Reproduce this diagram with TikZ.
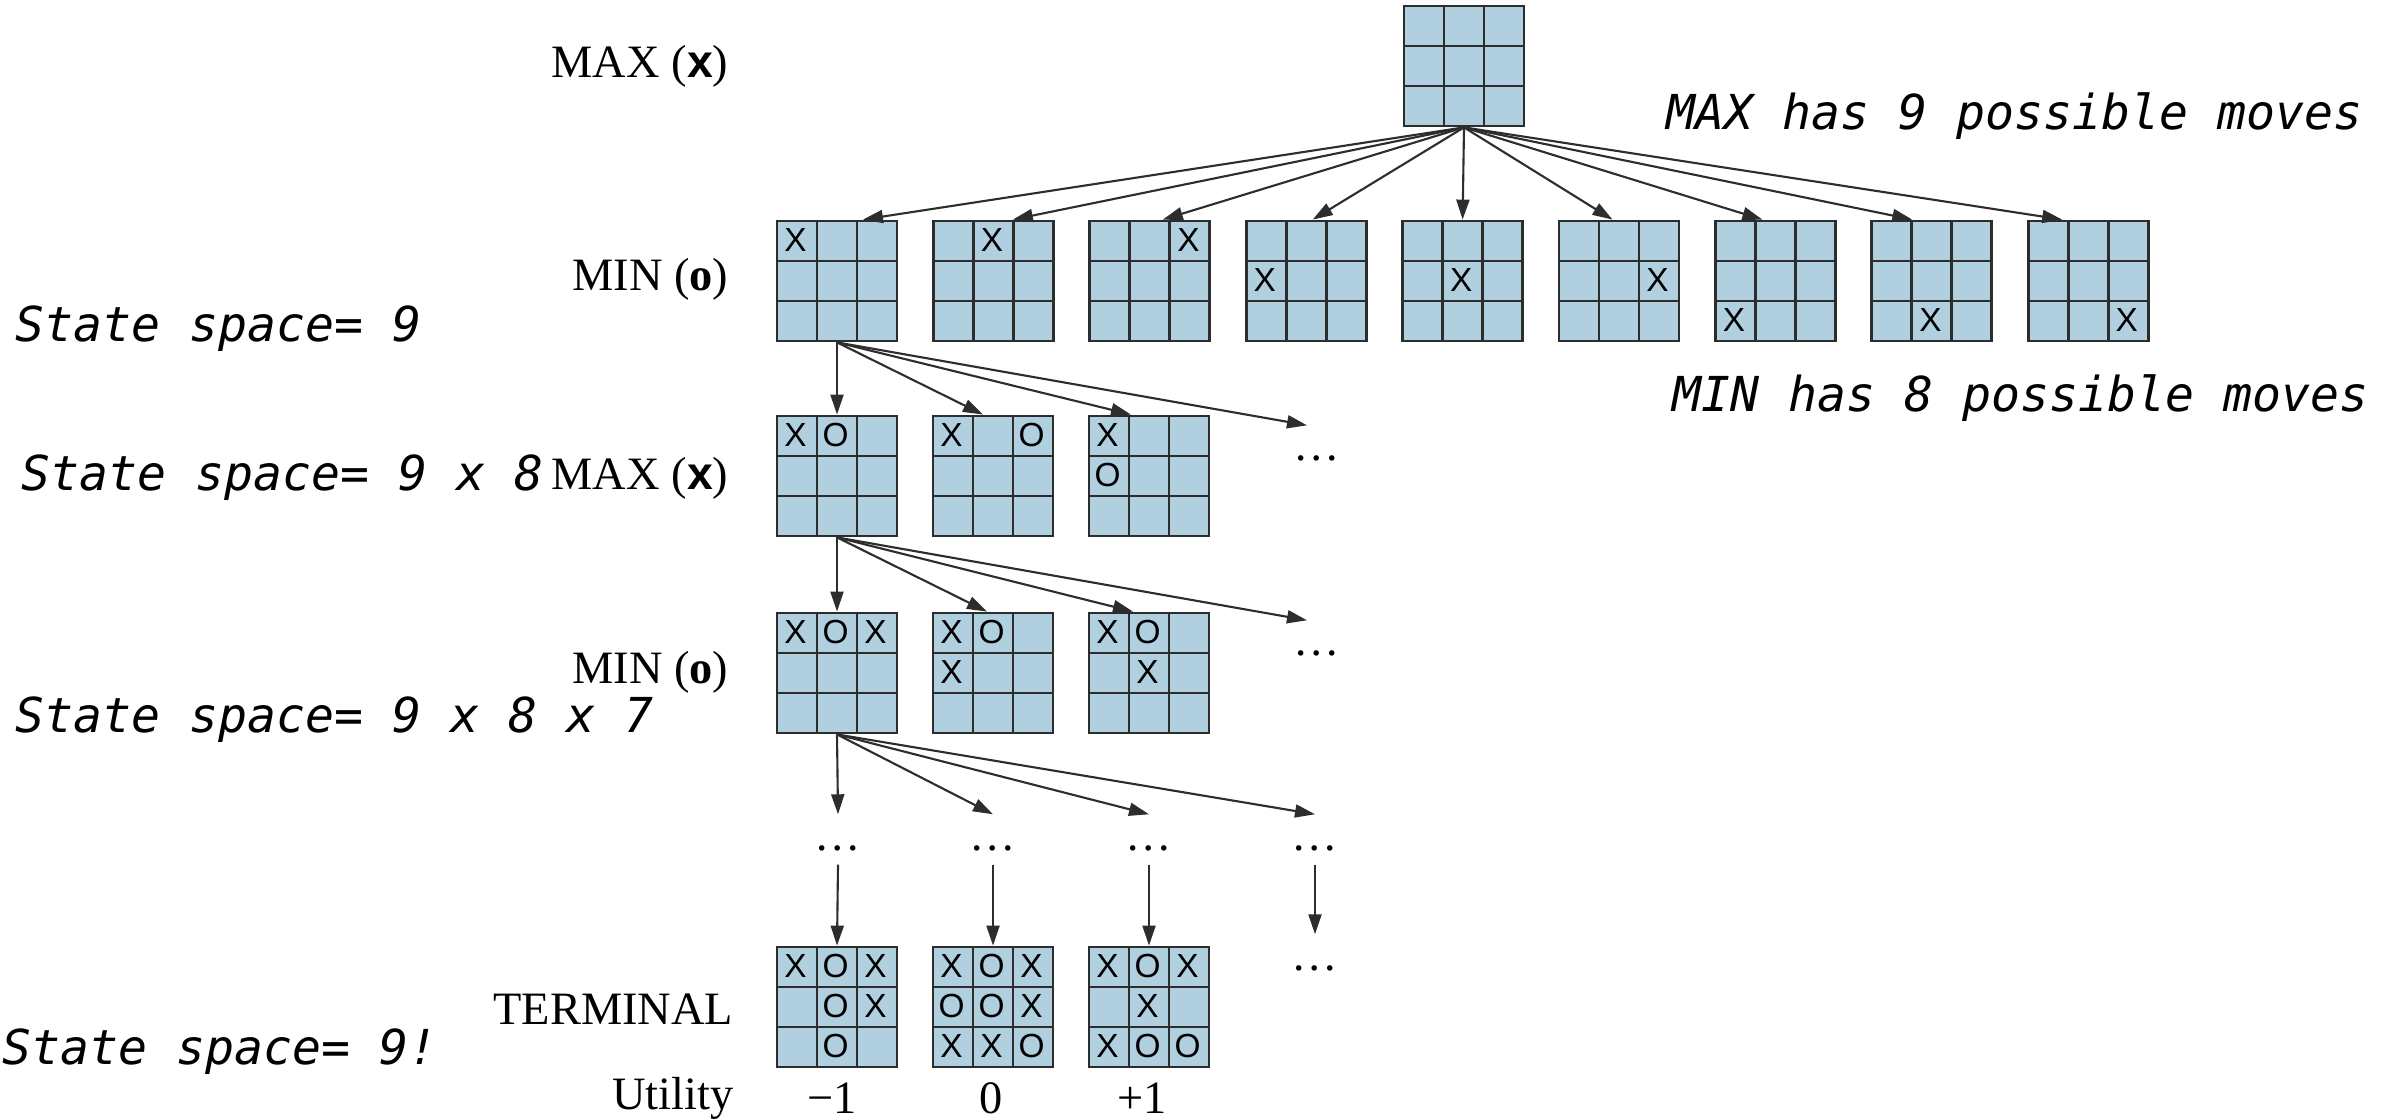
\documentclass[tikz,border=0pt]{standalone}
\usepackage{fontspec}
\setmainfont{Liberation Serif}
\setsansfont{Liberation Sans}
\newfontfamily\notefont{DejaVu Sans Mono}
\usetikzlibrary{positioning,calc,arrows.meta}

\definecolor{boardblue}{RGB}{176,207,223}
\definecolor{gridgray}{RGB}{45,45,45}

\tikzset{
  board/.style={draw=gridgray, line width=0.8pt, fill=boardblue,
    minimum width=12mm, minimum height=12mm, inner sep=0pt,
    path picture={
      \foreach \k in {1,2} {
        \draw[gridgray, line width=0.8pt]
          ($(path picture bounding box.north west)!\k/3!(path picture bounding box.north east)$) --
          ($(path picture bounding box.south west)!\k/3!(path picture bounding box.south east)$);
        \draw[gridgray, line width=0.8pt]
          ($(path picture bounding box.north west)!\k/3!(path picture bounding box.south west)$) --
          ($(path picture bounding box.north east)!\k/3!(path picture bounding box.south east)$);
      }
    }},
  cellmark/.style={inner sep=0pt, font=\sffamily\fontsize{9.5}{10}\selectfont},
  level/.style={inner sep=0pt, anchor=east, font=\fontsize{13.2}{15}\selectfont},
  utilval/.style={inner sep=0pt, font=\fontsize{13.2}{15}\selectfont},
  note/.style={inner sep=0pt, anchor=west, font=\notefont\itshape\fontsize{13.7}{16}\selectfont},
  more/.style={inner sep=0pt, text height=3.5mm, text depth=1.4mm, anchor=base,
    font=\fontsize{13.2}{15}\selectfont},
  move/.style={draw=gridgray, line width=0.6pt, -{Triangle[length=2mm,width=1.3mm]}}
}

% marks of one board: row/column/symbol
\newcommand{\putmarks}[2]{%
  \foreach \rw/\cl/\mk in {#2} {
    \node[cellmark] at ($(#1.north west)+(40*\cl-20,40*\rw-20)$) {\mk};
  }%
}

\begin{document}
\begin{tikzpicture}[x=0.1mm, y=-0.1mm]
\useasboundingbox (0,0) rectangle (2397,1120);

% level names
\node[level] (lmax1) at (729,66) {MAX (\textsf{\textbf{x}})};
\node[level] (lmin1) at (729,279) {MIN (\textbf{o})};
\node[level] (lmax2) at (729,478) {MAX (\textsf{\textbf{x}})};
\node[level] (lmin2) at (729,672) {MIN (\textbf{o})};
\node[level] (lterm) at (734,1009) {TERMINAL};
\node[level] (lutil) at (734,1098) {Utility};

% notes
\node[note] (maxnote) at (1666,116) {MAX has 9 possible moves};
\node[note] (minnote) at (1672,398) {MIN has 8 possible moves};
\node[note] (space1) at (15,329) {State space= 9};
\node[note] (space2) at (21,478) {State space= 9 x 8};
\node[note] (space3) at (15,720) {State space= 9 x 8 x 7};
\node[note] (space4) at (2,1052) {State space= 9!};

% root
\node[board] (root) at (1464,66) {};

% MAX moves
\foreach \i in {1,...,9} {
  \pgfmathtruncatemacro{\rr}{div(\i-1,3)+1}
  \pgfmathtruncatemacro{\cc}{mod(\i-1,3)+1}
  \node[board] (m\i) at ({837+156.4*(\i-1)},281) {};
  \node[cellmark] at ($(m\i.north west)+(40*\cc-20,40*\rr-20)$) {X};
  \draw[move] (root.south) -- ([xshift={(5-\i)*0.65mm}]m\i.north);
}

% MIN moves
\node[board] (a1) at (837,476) {};
\node[board] (a2) at (993,476) {};
\node[board] (a3) at (1149,476) {};
\putmarks{a1}{1/1/X,1/2/O}
\putmarks{a2}{1/1/X,1/3/O}
\putmarks{a3}{1/1/X,2/1/O}
\node[more] (d2) at (1317,461) {\ldots};
\draw[move] (m1.south) -- (a1.north);
\draw[move] (m1.south) -- ([xshift=-1mm]a2.north);
\draw[move] (m1.south) -- ([xshift=-1.8mm]a3.north);
\draw[move] (m1.south) -- ([xshift=-1mm]d2.north);

% MAX again
\node[board] (n1) at (837,673) {};
\node[board] (n2) at (993,673) {};
\node[board] (n3) at (1149,673) {};
\putmarks{n1}{1/1/X,1/2/O,1/3/X}
\putmarks{n2}{1/1/X,1/2/O,2/1/X}
\putmarks{n3}{1/1/X,1/2/O,2/2/X}
\node[more] (d3) at (1317,656) {\ldots};
\draw[move] (a1.south) -- (n1.north);
\draw[move] (a1.south) -- ([xshift=-0.6mm]n2.north);
\draw[move] (a1.south) -- ([xshift=-1.6mm]n3.north);
\draw[move] (a1.south) -- ([xshift=-1mm]d3.north);

% deeper levels
\foreach \j/\x in {1/838,2/993,3/1149,4/1315} {
  \node[more] (e\j) at (\x,850) {\ldots};
  \draw[move] (n1.south) -- (e\j.north);
}

% terminal states
\node[board] (t1) at (837,1007) {};
\node[board] (t2) at (993,1007) {};
\node[board] (t3) at (1149,1007) {};
\putmarks{t1}{1/1/X,1/2/O,1/3/X,2/2/O,2/3/X,3/2/O}
\putmarks{t2}{1/1/X,1/2/O,1/3/X,2/1/O,2/2/O,2/3/X,3/1/X,3/2/X,3/3/O}
\putmarks{t3}{1/1/X,1/2/O,1/3/X,2/2/X,3/1/X,3/2/O,3/3/O}
\node[more] (f4) at (1315,970) {\ldots};
\draw[move] (e1.south) -- (t1.north);
\draw[move] (e2.south) -- (t2.north);
\draw[move] (e3.south) -- (t3.north);
\draw[move] (e4.south) -- (f4.north);

% utilities
\node[utilval] (u1) at (832,1098) {−1};
\node[utilval] (u2) at (991,1098) {0};
\node[utilval] (u3) at (1142,1098) {+1};
\end{tikzpicture}
\end{document}
